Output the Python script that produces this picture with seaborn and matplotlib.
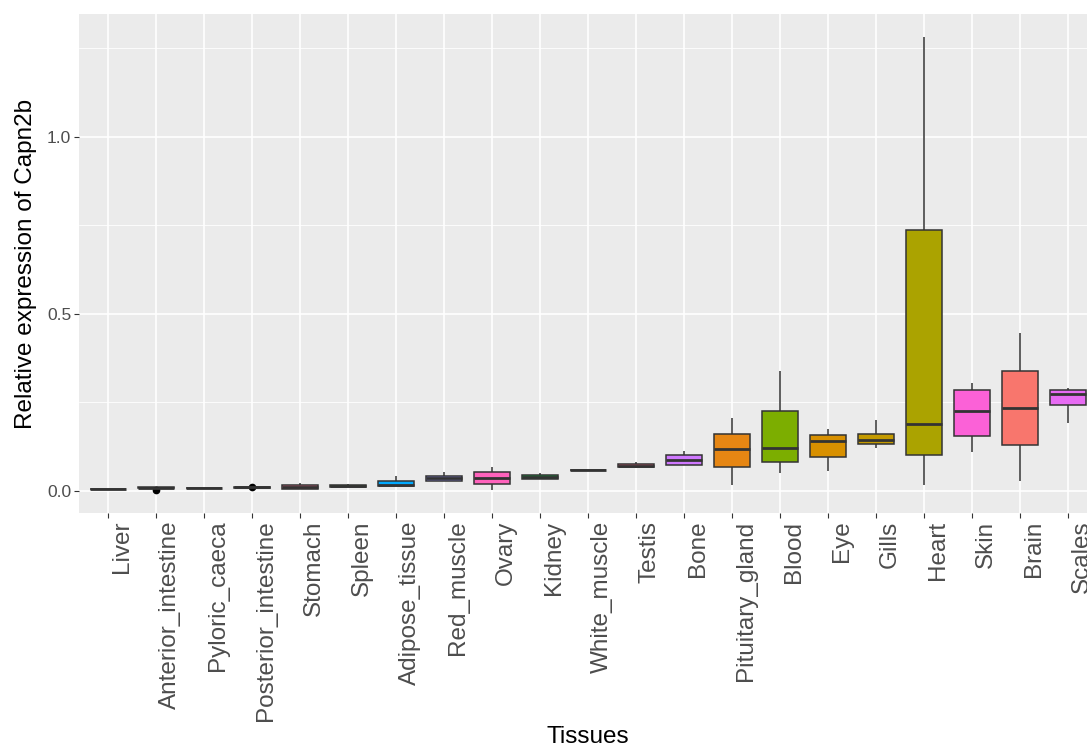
import numpy as np
import pandas as pd
import matplotlib
matplotlib.use("Agg")
import matplotlib.pyplot as plt
import matplotlib.transforms as mtransforms
import seaborn as sns
from matplotlib.ticker import FixedLocator, FixedFormatter

# ---------------- data (five-number summaries) ----------------
tissues = ["Liver", "Anterior_intestine", "Pyloric_caeca", "Posterior_intestine",
           "Stomach", "Spleen", "Adipose_tissue", "Red_muscle", "Ovary", "Kidney",
           "White_muscle", "Testis", "Bone", "Pituitary_gland", "Blood", "Eye",
           "Gills", "Heart", "Skin", "Brain", "Scales"]
whisker_low = [0.006, 0.009, 0.009, 0.0095, 0.007, 0.010, 0.013, 0.028, 0.004, 0.034,
               0.060, 0.064, 0.073, 0.018, 0.051, 0.056, 0.120, 0.016, 0.111, 0.027, 0.193]
q1 = [0.006, 0.0095, 0.009, 0.0098, 0.007, 0.010, 0.013, 0.028, 0.019, 0.034,
      0.060, 0.068, 0.073, 0.068, 0.082, 0.097, 0.134, 0.101, 0.155, 0.131, 0.242]
median = [0.006, 0.010, 0.009, 0.0100, 0.012, 0.013, 0.016, 0.037, 0.036, 0.039,
          0.060, 0.072, 0.087, 0.118, 0.121, 0.141, 0.145, 0.190, 0.225, 0.235, 0.273]
q3 = [0.006, 0.0105, 0.009, 0.0102, 0.017, 0.016, 0.029, 0.041, 0.053, 0.044,
      0.060, 0.076, 0.101, 0.161, 0.227, 0.158, 0.161, 0.737, 0.285, 0.340, 0.285]
whisker_high = [0.006, 0.011, 0.009, 0.0104, 0.024, 0.021, 0.041, 0.054, 0.069, 0.051,
                0.060, 0.083, 0.113, 0.207, 0.340, 0.174, 0.200, 1.282, 0.304, 0.447, 0.292]
outlier_tissues = ["Anterior_intestine", "Posterior_intestine"]
outlier_values = [0.002, 0.0112]
fill_colors = ["#F8766D", "#00BF7D", "#E76BF3", "#00B0F6", "#FF6C91", "#39B600",
               "#00A9FF", "#9590FF", "#FF62BC", "#00BA38", "#00C1A3", "#F0627F",
               "#CF78FF", "#E68613", "#7CAE00", "#D89000", "#C49A00", "#ABA300",
               "#FB61D7", "#F8766D", "#E76BF3"]

# ---------------- long-form observations ----------------
rows = []
for i, t in enumerate(tissues):
    for v in (whisker_low[i], q1[i], median[i], q3[i], whisker_high[i]):
        rows.append((t, v))
for t, v in zip(outlier_tissues, outlier_values):
    rows.append((t, v))
df = pd.DataFrame(rows, columns=["Tissues", "Expression"])
palette = dict(zip(tissues, fill_colors))

# ---------------- figure ----------------
sns.set_theme(style="darkgrid")
plt.rcParams["font.family"] = ["Liberation Sans", "DejaVu Sans"]

fig = plt.figure(figsize=(10.87, 7.49), dpi=100)
fig.patch.set_facecolor("white")
ax = fig.add_axes([79 / 1087, (749 - 513) / 749, (1096.6 - 79) / 1087, (513 - 14) / 749])
ax.set_facecolor("#EBEBEB")

sns.boxplot(data=df, x="Tissues", y="Expression", hue="Tissues", order=tissues,
            hue_order=tissues, palette=palette, legend=False, saturation=1,
            width=0.75, linecolor="#333333", linewidth=1.1, showcaps=False,
            fliersize=4.5,
            flierprops=dict(marker="o", markerfacecolor="black",
                            markeredgecolor="black"),
            medianprops=dict(linewidth=2.0, color="#333333"),
            ax=ax)

ax.set_xlim(-0.6, len(tissues) - 0.4)
ax.set_ylim(-0.062, 1.346)

ax.yaxis.set_major_locator(FixedLocator([0.0, 0.5, 1.0]))
ax.yaxis.set_major_formatter(FixedFormatter(["0.0", "0.5", "1.0"]))
ax.yaxis.set_minor_locator(FixedLocator([0.25, 0.75, 1.25]))

ax.grid(which="major", color="white", linewidth=1.2)
ax.grid(which="minor", axis="y", color="white", linewidth=0.6)
ax.set_axisbelow(True)
for s in ax.spines.values():
    s.set_visible(False)

ax.tick_params(axis="both", which="major", length=3.3, width=0.8, color="#333333",
               bottom=True, left=True)
ax.tick_params(axis="y", which="minor", length=0)
ax.tick_params(axis="y", labelsize=12.5, labelcolor="#4D4D4D", pad=2.2)
ax.tick_params(axis="x", labelsize=17.5, labelcolor="#4D4D4D", pad=2.2)
offset = mtransforms.ScaledTranslation(3 / 100, 0, fig.dpi_scale_trans)
for lab in ax.get_xticklabels():
    lab.set_rotation(90)
    lab.set_ha("left")
    lab.set_va("top")
    lab.set_transform(lab.get_transform() + offset)

ax.set_xlabel("Tissues", fontsize=17.5, color="black", labelpad=3)
ax.set_ylabel("Relative expression of Capn2b", fontsize=17.5, color="black", labelpad=7)

fig.savefig("out.png", dpi=100, facecolor="white")
